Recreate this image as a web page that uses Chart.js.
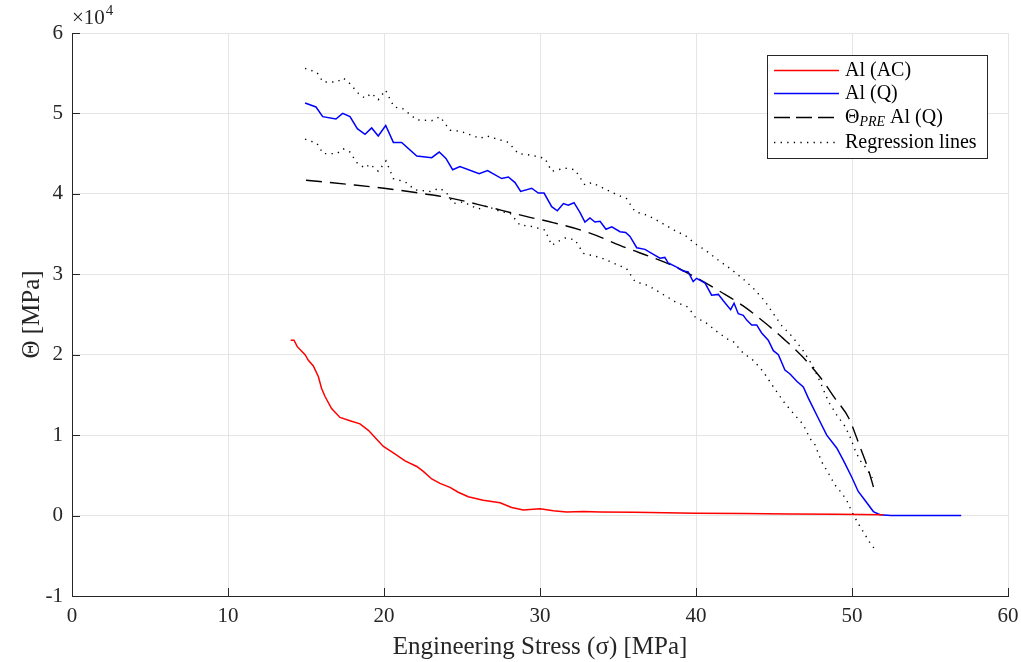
<!DOCTYPE html>
<html>
<head>
<meta charset="utf-8">
<script src="https://cdn.jsdelivr.net/npm/chart.js@4.4.1/dist/chart.umd.min.js"></script>
<style>
  html, body { margin: 0; padding: 0; background: #fff; }
  #wrap { width: 1021px; height: 662px; }
</style>
</head>
<body>
<div id="wrap"><canvas id="chartTheta" width="1021" height="662"></canvas></div>
<script>
// valores en unidades de 1e4 MPa (eje y)
const stressAC = [14.02, 14.23, 14.44, 14.94, 15.15, 15.47, 15.79, 16.0, 16.22, 16.64, 17.18, 17.82, 18.46, 19.0, 19.53, 19.96, 20.6, 21.35, 22.1, 22.52, 23.06, 23.59, 24.23, 24.76, 25.4, 26.36, 27.44, 28.18, 28.93, 30.0, 30.85, 31.71, 32.78, 33.85, 36, 38, 40, 43, 46, 49, 52];
const thetaAC  = [2.18, 2.18, 2.10, 2.00, 1.93, 1.86, 1.73, 1.58, 1.48, 1.33, 1.22, 1.18, 1.14, 1.06, 0.95, 0.86, 0.78, 0.68, 0.61, 0.55, 0.455, 0.40, 0.35, 0.29, 0.235, 0.19, 0.16, 0.10, 0.07, 0.085, 0.06, 0.045, 0.05, 0.045, 0.04, 0.035, 0.03, 0.025, 0.02, 0.015, 0.01];

const stressQ = [14.94, 15.64, 16.07, 16.92, 17.35, 17.82, 18.29, 18.78, 19.21, 19.63, 20.11, 20.6, 21.13, 22.1, 23.06, 23.54, 23.97, 24.4, 24.87, 26.1, 26.64, 27.54, 27.97, 28.4, 28.76, 29.47, 29.89, 30.26, 30.75, 31.11, 31.5, 31.81, 32.18, 32.56, 32.88, 33.2, 33.52, 33.85, 34.23, 34.6, 35.13, 35.49, 35.77, 36.2, 36.73, 37.16, 37.69, 38.0, 38.22, 38.76, 39.18, 39.5, 39.82, 40.04, 40.58, 41.0, 41.43, 41.75, 42.22, 42.44, 42.71, 43.03, 43.25, 43.57, 43.89, 44.21, 44.63, 44.96, 45.28, 45.7, 46.03, 46.46, 46.88, 47.2, 47.84, 48.38, 49.02, 49.44, 49.98, 50.4, 50.83, 51.37, 51.79, 52.5, 57];
const thetaQ  = [5.13, 5.08, 4.96, 4.93, 5.00, 4.96, 4.81, 4.74, 4.82, 4.72, 4.85, 4.64, 4.64, 4.47, 4.45, 4.52, 4.44, 4.30, 4.34, 4.25, 4.29, 4.19, 4.21, 4.14, 4.03, 4.07, 4.01, 4.01, 3.84, 3.79, 3.88, 3.86, 3.89, 3.77, 3.65, 3.70, 3.65, 3.66, 3.56, 3.59, 3.53, 3.52, 3.47, 3.33, 3.31, 3.26, 3.20, 3.21, 3.14, 3.09, 3.04, 3.03, 2.91, 2.95, 2.89, 2.74, 2.75, 2.67, 2.56, 2.64, 2.51, 2.49, 2.43, 2.37, 2.37, 2.27, 2.18, 2.05, 2.00, 1.81, 1.76, 1.67, 1.60, 1.46, 1.21, 1.00, 0.84, 0.69, 0.48, 0.30, 0.19, 0.05, 0.01, 0, 0];

const stressPRE = [15, 17.6, 20, 22.6, 24.2, 26, 29.1, 30.9, 33.1, 35.5, 37.2, 38.7, 40, 41.6, 43, 44.4, 45.6, 46.8, 48, 48.9, 49.8, 50.5, 51.05, 51.5];
const thetaPRE  = [4.17, 4.12, 4.07, 4.0, 3.95, 3.87, 3.72, 3.64, 3.52, 3.33, 3.21, 3.09, 2.96, 2.78, 2.61, 2.40, 2.20, 1.98, 1.71, 1.46, 1.21, 0.86, 0.57, 0.27];

const stressUp = [14.94, 15.7, 16.1, 16.97, 17.39, 17.82, 18.35, 18.78, 19.2, 19.63, 20.1, 20.64, 21.2, 22.1, 23.06, 23.59, 24.23, 24.87, 26.15, 26.58, 27.97, 28.61, 29.47, 30.32, 30.75, 31.17, 31.6, 32.24, 32.88, 33.31, 33.85, 34.7, 35.55, 36.09, 36.94, 37.69, 38.6, 39.4, 39.94, 40.6, 41.4, 42.2, 43.03, 43.7, 44.4, 44.96, 45.5, 46.1, 46.8, 47.52, 48.05, 48.48, 49.02, 49.55, 49.87, 50.19, 50.5, 50.83, 51.3];
const thetaUp  = [5.56, 5.51, 5.39, 5.39, 5.44, 5.37, 5.25, 5.19, 5.25, 5.17, 5.29, 5.08, 5.06, 4.92, 4.91, 4.96, 4.79, 4.78, 4.69, 4.72, 4.64, 4.50, 4.48, 4.44, 4.28, 4.30, 4.32, 4.30, 4.11, 4.14, 4.09, 4.01, 3.94, 3.78, 3.73, 3.65, 3.55, 3.47, 3.38, 3.30, 3.18, 3.07, 2.94, 2.82, 2.67, 2.51, 2.36, 2.24, 2.07, 1.85, 1.62, 1.42, 1.25, 1.11, 0.98, 0.82, 0.69, 0.61, 0.47];

const stressLow = [14.94, 15.69, 16.1, 16.97, 17.39, 17.82, 18.25, 18.78, 19.1, 19.63, 20.13, 20.6, 21.35, 21.99, 22.95, 23.59, 24.02, 24.44, 25.08, 26.05, 26.58, 27.44, 28.08, 28.72, 29.36, 30.32, 30.75, 31.17, 31.6, 32.24, 32.78, 33.2, 33.85, 34.7, 35.55, 36.09, 36.94, 37.8, 38.65, 39.5, 39.94, 40.69, 41.33, 41.97, 42.4, 43.03, 43.67, 44.31, 44.96, 45.6, 46.24, 46.88, 47.3, 47.63, 48.05, 48.48, 48.91, 49.34, 49.66, 49.98, 50.4, 50.72, 51.25, 51.4];
const thetaLow  = [4.68, 4.63, 4.50, 4.50, 4.56, 4.52, 4.39, 4.32, 4.37, 4.28, 4.41, 4.19, 4.15, 4.05, 4.03, 4.07, 4.01, 3.88, 3.90, 3.81, 3.85, 3.78, 3.76, 3.61, 3.60, 3.55, 3.36, 3.41, 3.45, 3.43, 3.26, 3.24, 3.21, 3.14, 3.07, 2.91, 2.86, 2.76, 2.66, 2.59, 2.47, 2.39, 2.29, 2.20, 2.16, 2.02, 1.93, 1.79, 1.60, 1.42, 1.27, 1.13, 0.96, 0.88, 0.67, 0.53, 0.38, 0.28, 0.19, 0.05, -0.10, -0.20, -0.37, -0.40];

const xTicks = [0, 10, 20, 30, 40, 50, 60];
const yTicks = [-1, 0, 1, 2, 3, 4, 5, 6];

const serif = "'Liberation Serif', 'Times New Roman', serif";
const pares = (xs, ys) => xs.map((x, i) => ({ x: x, y: ys[i] }));

const entradas = [
  { label: 'Al (AC)', color: '#ff0000', dash: [], width: 1.5 },
  { label: 'Al (Q)', color: '#0000ff', dash: [], width: 1.5 },
  { label: 'PRE', color: '#000000', dash: [16, 6], width: 1.4 },
  { label: 'Regression lines', color: '#000000', dash: [1.3, 5.3], width: 1.4 }
];

const extras = {
  id: 'extras',
  afterDraw(chart) {
    const ctx = chart.ctx;
    const xs = chart.scales.x, ys = chart.scales.y;
    const area = chart.chartArea;
    ctx.save();
    // marcas hacia adentro
    ctx.strokeStyle = '#262626';
    ctx.lineWidth = 1;
    ctx.beginPath();
    xTicks.forEach(v => {
      const px = Math.round(xs.getPixelForValue(v)) + 0.5;
      ctx.moveTo(px, area.bottom);
      ctx.lineTo(px, area.bottom - 8);
    });
    yTicks.forEach(v => {
      const py = Math.round(ys.getPixelForValue(v)) + 0.5;
      ctx.moveTo(area.left, py);
      ctx.lineTo(area.left + 8, py);
    });
    ctx.stroke();

    // x10^4
    ctx.fillStyle = '#262626';
    ctx.textBaseline = 'alphabetic';
    ctx.textAlign = 'left';
    ctx.font = '21px ' + serif;
    ctx.fillText('\u00d710', area.left, area.top - 9);
    const w = ctx.measureText('\u00d710').width;
    ctx.font = '15px ' + serif;
    ctx.fillText('4', area.left + w + 1, area.top - 18);

    // leyenda
    const bx = 767, by = 55, bw = 220, bh = 103;
    ctx.fillStyle = '#ffffff';
    ctx.fillRect(bx, by, bw, bh);
    ctx.strokeStyle = '#262626';
    ctx.lineWidth = 1;
    ctx.strokeRect(bx + 0.5, by + 0.5, bw, bh);
    const filas = [70, 93, 117, 142];
    entradas.forEach((e, i) => {
      const y = filas[i] + 0.5;
      ctx.beginPath();
      ctx.setLineDash(e.dash);
      ctx.strokeStyle = e.color;
      ctx.lineWidth = e.width;
      ctx.moveTo(774, y);
      ctx.lineTo(839, y);
      ctx.stroke();
      ctx.setLineDash([]);
      ctx.fillStyle = '#000';
      ctx.textBaseline = 'middle';
      ctx.font = '20px ' + serif;
      if (e.label === 'PRE') {
        ctx.fillText('\u0398', 845, y);
        let x = 845 + ctx.measureText('\u0398').width;
        ctx.font = 'italic 14px ' + serif;
        ctx.fillText('PRE', x, y + 5);
        x += ctx.measureText('PRE').width + 5;
        ctx.font = '20px ' + serif;
        ctx.fillText('Al (Q)', x, y);
      } else {
        ctx.fillText(e.label, 845, y);
      }
    });
    ctx.restore();
  }
};

const ctxTheta = document.getElementById('chartTheta').getContext('2d');
new Chart(ctxTheta, {
  type: 'line',
  data: {
    datasets: [
      { label: 'Al (AC)', data: pares(stressAC, thetaAC), borderColor: '#ff0000', borderWidth: 1.5 },
      { label: 'Al (Q)', data: pares(stressQ, thetaQ), borderColor: '#0000ff', borderWidth: 1.5 },
      { label: 'PRE Al (Q)', data: pares(stressPRE, thetaPRE), borderColor: '#000000', borderWidth: 1.4, borderDash: [16, 8], cubicInterpolationMode: 'monotone' },
      { label: 'Regression lines', data: pares(stressUp, thetaUp), borderColor: '#000000', borderWidth: 1.4, borderDash: [1.3, 5.3] },
      { label: 'Regression lines (inf)', data: pares(stressLow, thetaLow), borderColor: '#000000', borderWidth: 1.4, borderDash: [1.3, 5.3] }
    ].map(ds => Object.assign({ pointRadius: 0, fill: false, tension: 0, backgroundColor: ds.borderColor }, ds))
  },
  options: {
    responsive: false,
    animation: false,
    layout: { padding: { top: 33, right: 13, left: 0, bottom: 0 } },
    plugins: {
      legend: { display: false },
      tooltip: { enabled: false }
    },
    scales: {
      x: {
        type: 'linear',
        min: 0, max: 60,
        afterFit: s => { s.height = 66; s.paddingRight = 0; s.paddingLeft = 0; },
        afterBuildTicks: s => { s.ticks = xTicks.map(v => ({ value: v })); },
        grid: { color: '#e5e5e5', drawTicks: false },
        border: { color: '#262626', width: 1 },
        ticks: { padding: 8, color: '#262626', font: { family: serif, size: 21 } },
        title: { display: true, text: 'Engineering Stress (\u03c3) [MPa]', color: '#262626', font: { family: serif, size: 25 }, padding: { top: 0, bottom: 0 } }
      },
      y: {
        type: 'linear',
        min: -1, max: 6,
        afterFit: s => { s.width = 72; s.paddingTop = 0; s.paddingBottom = 0; },
        afterBuildTicks: s => { s.ticks = yTicks.map(v => ({ value: v })); },
        grid: { color: '#e5e5e5', drawTicks: false },
        border: { color: '#262626', width: 1 },
        ticks: { padding: 9, color: '#262626', font: { family: serif, size: 21 } },
        title: { display: true, text: '\u0398 [MPa]', color: '#262626', font: { family: serif, size: 25 }, padding: { top: 17, bottom: 0 } }
      }
    }
  },
  plugins: [extras]
});
</script>
</body>
</html>
